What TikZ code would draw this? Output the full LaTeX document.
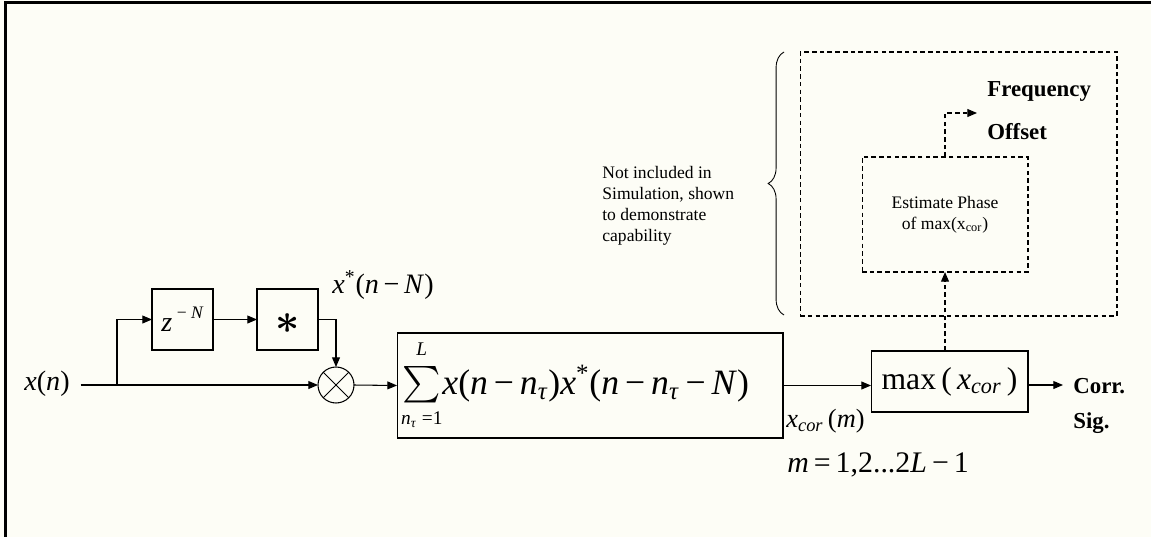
\documentclass[tikz,border=0pt]{standalone}
\usepackage{fix-cm}
\usepackage{amsmath}
\usepackage{fontspec}
\setmainfont{Liberation Serif}
\usepackage{tikz}
\usetikzlibrary{calc,arrows.meta,decorations.pathreplacing,positioning,shapes}
\definecolor{paper}{RGB}{253,253,246}
\newcommand{\fsz}[1]{\fontsize{#1}{#1}\selectfont}
\newcommand{\vi}[1]{\textit{#1}}
\newcommand{\mn}{\,−\,}

\begin{document}
\begin{tikzpicture}[x=0.02cm, y=-0.02cm,
    block/.style={draw, line width=0.6pt, inner sep=0pt, outer sep=0pt},
    dashblock/.style={block, dash pattern=on 2.6pt off 1.8pt},
    sig/.style={line width=0.6pt, -{Triangle[length=5.5pt, width=4.5pt]}},
    dashsig/.style={sig, dash pattern=on 2.6pt off 1.8pt},
    lbl/.style={inner sep=0pt},
    boldlbl/.style={inner sep=0pt, anchor=west, font=\fsz{13}\bfseries}]
  % Paper and frame
  \fill[paper] (0,0) rectangle (1151,537);
  \fill[black] (4,1.5) rectangle (7,537);
  \fill[black] (4,1.5) rectangle (1151,4.5);
  % Input and delay branch
  \node[lbl, inner xsep=6pt] (xn) at (47,384) {\fsz{16}\vi{x}(\vi{n})};
  \coordinate (split) at (117,385);
  \node[block, minimum width=1.22cm, minimum height=1.22cm] (delay) at (182.5,319.5)
    {\fsz{16}\vi{z}\,\raisebox{0.45em}{\fsz{10}− \vi{N}}};
  \node[block, minimum width=1.22cm, minimum height=1.22cm] (conj) at (287.5,319.5)
    {\fsz{24}\raisebox{-2.5pt}[\height][\depth]{$\boldsymbol{\ast}$}};
  \node[lbl] (conjlbl) at (383,285) {\fsz{16}\vi{x}\textsuperscript{*}(\vi{n}\mn\vi{N})};
  % Multiplier
  \node[draw, circle, line width=0.6pt, minimum size=0.72cm, inner sep=0pt, outer sep=0pt] (mult) at (336,385) {};
  \draw[line width=0.5pt] (mult.45) -- (mult.225) (mult.135) -- (mult.315);
  % Correlation sum
  \node[block, minimum width=7.72cm, minimum height=2.1cm] (corr) at (590,385.5)
    {\fsz{21}$\sum\limits_{\mbox{\fsz{11}\vi{n}\textsubscript{\vi{τ}} =1}}^{\raisebox{2pt}{\fsz{11}\vi{L}}}$%
     \fsz{20.3}\vi{x}(\vi{n}\mn\vi{n}\textsubscript{\vi{τ}})\vi{x}\textsuperscript{*}(\vi{n}\mn\vi{n}\textsubscript{\vi{τ}}\mn\vi{N})\hspace*{17pt}};
  \node[lbl, anchor=west] (corrlbl) at (786,421) {\fsz{15}\vi{x}\textsubscript{\vi{cor}}\,(\vi{m})};
  \node[lbl, anchor=west] (range) at (787,465) {\fsz{17}\vi{m}\,=\,1,2...2\vi{L}\mn1};
  % Peak search
  \node[block, minimum width=3.14cm, minimum height=1.22cm] (peak) at (949.5,381.5)
    {\fsz{18}max\,(\,\vi{x}\textsubscript{\vi{cor}}\,)};
  \coordinate (out) at (1063,385);
  \node[boldlbl] (corrsig) at (1073,386) {Corr.};
  \node[boldlbl] (sig) at (1073,423) {Sig.};
  % Optional part, not simulated
  \node[dashblock, minimum width=6.34cm, minimum height=5.28cm] (ext) at (958.5,184) {};
  \node[dashblock, minimum width=3.32cm, minimum height=2.3cm, align=center,
        font=\fontsize{10}{12}\selectfont] (phase) at (945,214.5)
    {Estimate Phase\\of max(x\textsubscript{cor})};
  \coordinate (fo) at (977,113);
  \node[boldlbl] (freq) at (987,91) {Frequency};
  \node[boldlbl] (offset) at (987,132) {Offset};
  \draw[decorate, decoration={brace, amplitude=9pt}, line width=0.5pt] (784,315) -- (784,52);
  \node[lbl, anchor=west, align=left, font=\fontsize{10}{11.9}\selectfont] (note) at (602,206)
    {Not included in\\Simulation, shown\\to demonstrate\\capability};
  % Connections
  \draw[sig] (xn.east |- split) -- (mult.west);
  \draw[sig] (split) |- (delay.west);
  \draw[sig] (delay.east) -- (conj.west);
  \draw[sig] (conj.east) -| (mult.north);
  \draw[sig] (mult.east) -- (corr.west);
  \draw[sig] (corr.east) -- (corr.east -| peak.west);
  \draw[sig] (peak.east |- out) -- (out);
  \draw[dashsig] (peak.north -| phase.south) -- (phase.south);
  \draw[dashsig] (phase.north) |- (fo);
\end{tikzpicture}
\end{document}
